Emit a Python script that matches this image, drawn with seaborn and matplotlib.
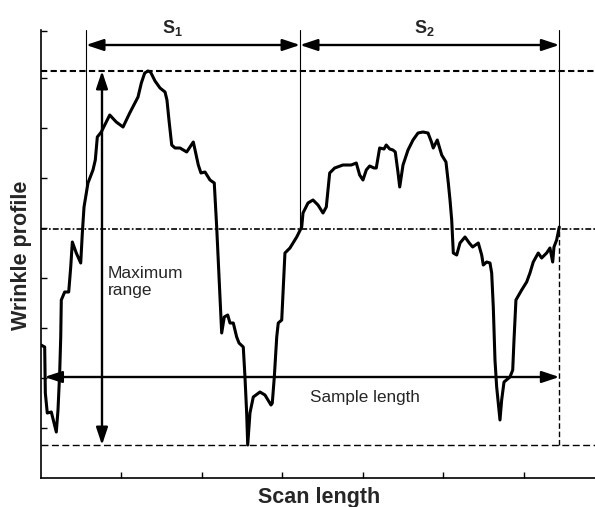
import numpy as np
import pandas as pd
import matplotlib
matplotlib.use("Agg")
import matplotlib.pyplot as plt
import seaborn as sns

# Surface profile along the scan (scan length in tick units, height in tick units)
scan = [0.006, 0.052, 0.060, 0.084, 0.134, 0.196, 0.217, 0.238, 0.251, 0.258,
        0.300, 0.350, 0.375, 0.395, 0.444, 0.499, 0.519, 0.540, 0.589, 0.651,
        0.680, 0.705, 0.754, 0.797, 0.859, 0.940, 1.024, 1.107, 1.210, 1.251,
        1.293, 1.334, 1.365, 1.421, 1.483, 1.545, 1.569, 1.594, 1.628, 1.669,
        1.731, 1.814, 1.896, 1.958, 1.991, 2.041, 2.103, 2.156, 2.186, 2.215,
        2.248, 2.280, 2.323, 2.351, 2.392, 2.434, 2.463, 2.516, 2.537, 2.558,
        2.571, 2.599, 2.640, 2.723, 2.785, 2.860, 2.876, 2.901, 2.931, 2.950,
        2.993, 3.033, 3.095, 3.179, 3.241, 3.257, 3.319, 3.381, 3.443, 3.505,
        3.546, 3.588, 3.650, 3.753, 3.856, 3.918, 3.960, 4.001, 4.042, 4.084,
        4.138, 4.166, 4.208, 4.262, 4.290, 4.333, 4.373, 4.402, 4.435, 4.457,
        4.498, 4.560, 4.622, 4.684, 4.746, 4.808, 4.851, 4.873, 4.923, 4.978,
        5.031, 5.060, 5.081, 5.102, 5.122, 5.164, 5.205, 5.267, 5.320, 5.362,
        5.432, 5.474, 5.494, 5.536, 5.577, 5.598, 5.618, 5.639, 5.660, 5.701,
        5.722, 5.751, 5.825, 5.859, 5.875, 5.899, 5.970, 6.032, 6.073, 6.114,
        6.176, 6.218, 6.280, 6.321, 6.355, 6.371, 6.404, 6.437]
profile = [2.66, 2.62, 1.70, 1.30, 1.32, 0.92, 1.36, 2.10, 2.82, 3.56,
           3.72, 3.72, 4.22, 4.72, 4.50, 4.30, 4.90, 5.42, 5.90, 6.16,
           6.36, 6.82, 6.92, 7.06, 7.26, 7.12, 7.02, 7.30, 7.62, 7.90,
           8.10, 8.14, 8.12, 7.94, 7.80, 7.72, 7.56, 7.16, 6.66, 6.60,
           6.60, 6.52, 6.72, 6.26, 6.10, 6.12, 5.96, 5.90, 5.02, 4.02,
           2.90, 3.22, 3.26, 3.10, 3.10, 2.82, 2.70, 2.62, 2.02, 1.30,
           0.66, 1.30, 1.62, 1.72, 1.66, 1.46, 1.50, 2.02, 2.82, 3.10,
           3.16, 4.50, 4.60, 4.82, 5.02, 5.30, 5.50, 5.56, 5.46, 5.30,
           5.42, 6.10, 6.20, 6.26, 6.26, 6.30, 6.06, 5.96, 6.16, 6.24,
           6.20, 6.20, 6.60, 6.58, 6.66, 6.58, 6.56, 6.52, 6.12, 5.82,
           6.26, 6.56, 6.76, 6.90, 6.92, 6.90, 6.72, 6.60, 6.76, 6.46,
           6.32, 5.90, 5.56, 5.16, 4.50, 4.46, 4.70, 4.82, 4.70, 4.62,
           4.70, 4.46, 4.26, 4.32, 4.30, 4.10, 3.42, 2.36, 1.82, 1.16,
           1.56, 1.92, 2.02, 2.16, 2.76, 3.56, 3.76, 3.92, 4.10, 4.32,
           4.50, 4.40, 4.50, 4.60, 4.32, 4.62, 4.76, 5.02]

mean_level = 4.98          # mean line of the profile
sample_level = 2.02        # height of the sample-length arrow
sample_start = 0.05
s1_start, s1_end = 0.565, 3.22
s2_end = scan[-1]
range_x = 0.763            # position of the maximum-range arrow
s_arrow_level = 8.66
top_level = 8.96
x_ticks = [1, 2, 3, 4, 5, 6]
y_ticks = [1, 2, 3, 4, 5, 6, 7, 8, 8.94]

sns.set_style("white")
plt.rcParams["font.family"] = ["Liberation Sans", "DejaVu Sans"]
plt.rcParams["mathtext.fontset"] = "custom"
plt.rcParams["mathtext.bf"] = "Liberation Sans:bold"
plt.rcParams["mathtext.rm"] = "Liberation Sans"

fig = plt.figure(figsize=(5.95, 5.07), dpi=100)
ax = fig.add_axes([40.5 / 595, 29 / 507, 554.5 / 595, 448 / 507])

df = pd.DataFrame({"scan": scan, "profile": profile})
sns.lineplot(data=df, x="scan", y="profile", sort=False, estimator=None,
             color="black", lw=2.2, ax=ax)

peak = max(profile)
trough = min(profile)

# reference levels
ax.axhline(peak, color="black", lw=1.5, ls=(0, (3, 1.6)))
ax.axhline(mean_level, color="black", lw=1.2, ls=(0, (3.5, 1.3, 1, 1.3)))
ax.axhline(trough, color="black", lw=1.0, ls=(0, (5, 2.5)))

# boundaries of the two sampling windows
ax.plot([s1_start, s1_start], [np.interp(s1_start, scan, profile), top_level],
        color="black", lw=0.8)
ax.plot([s1_end, s1_end], [np.interp(s1_end, scan, profile), top_level],
        color="black", lw=0.8)
ax.plot([s2_end, s2_end], [profile[-1], top_level], color="black", lw=0.8)
ax.plot([s2_end, s2_end], [trough, profile[-1]], color="black", lw=1.0,
        ls=(0, (4, 2)))

def double_arrow(p0, p1, lw=1.7):
    ax.annotate("", xy=p1, xytext=p0,
                arrowprops=dict(arrowstyle="<|-|>,head_length=0.75,head_width=0.25",
                                color="black", lw=lw, shrinkA=0, shrinkB=0,
                                mutation_scale=14))

double_arrow((s1_start, s_arrow_level), (s1_end, s_arrow_level))
double_arrow((s1_end, s_arrow_level), (s2_end, s_arrow_level))
double_arrow((range_x, trough), (range_x, peak))
double_arrow((sample_start, sample_level), (s2_end, sample_level))

ax.text(1.507, 8.90, r"$\mathbf{S}_\mathbf{1}$", fontsize=13, va="baseline")
ax.text(4.633, 8.90, r"$\mathbf{S}_\mathbf{2}$", fontsize=13, va="baseline")
ax.text(0.837, 3.92, "Maximum\nrange", fontsize=12.5, va="center", ha="left",
        linespacing=1.1)
ax.text(3.344, 1.52, "Sample length", fontsize=12.3, va="baseline", ha="left")

ax.set_xlim(0, 6.88)
ax.set_ylim(0, top_level)
ax.set_xticks(x_ticks)
ax.set_yticks(y_ticks)
ax.set_xticklabels([])
ax.set_yticklabels([])
ax.tick_params(direction="in", length=4, width=1, colors="black",
               bottom=True, left=True)
for side in ("top", "right"):
    ax.spines[side].set_visible(False)
for side in ("left", "bottom"):
    ax.spines[side].set_color("black")
    ax.spines[side].set_linewidth(1.2)

ax.set_xlabel("Scan length", fontsize=15.5, fontweight="bold")
ax.set_ylabel("Wrinkle profile", fontsize=15.5, fontweight="bold")
ax.xaxis.label.set_va("baseline")
ax.xaxis.set_label_coords(0.503, (478 - 503) / 448)
ax.yaxis.label.set_va("baseline")
ax.yaxis.set_label_coords((27 - 40.5) / 554.5, (478 - 255) / 448)

fig.savefig("out.png", dpi=100)
